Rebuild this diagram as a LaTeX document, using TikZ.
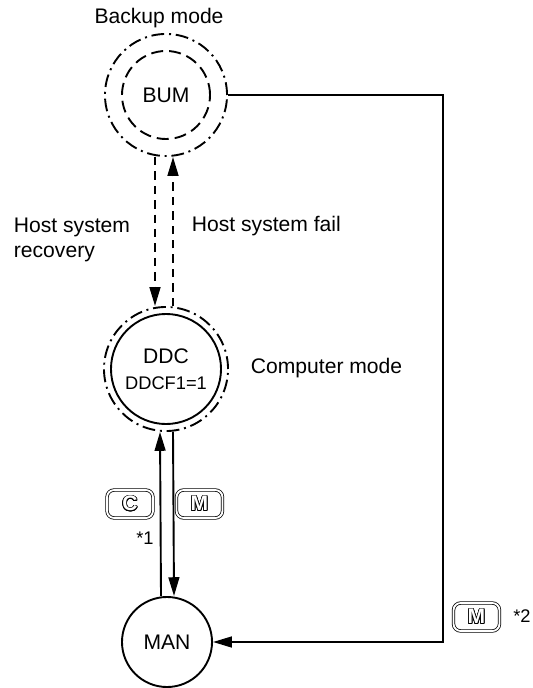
\documentclass[tikz,border=0pt]{standalone}
\usepackage{fontspec}
\setmainfont{Liberation Sans}
\usepackage{contour}
\contourlength{0.5pt}
\usetikzlibrary{arrows.meta}

\begin{document}
\begin{tikzpicture}[x=0.025cm, y=-0.025cm, line width=1.35pt,
		font=\fontsize{15}{17.5}\selectfont,
		arr/.style={-{Triangle[length=0.47cm,width=0.27cm]}},
		dashdot/.style={dash pattern=on 0.32cm off 0.12cm on 0.05cm off 0.12cm},
		dashline/.style={dash pattern=on 0.21cm off 0.15cm},
		mode/.style={circle, draw, inner sep=0pt},
		keycap/.style={draw, rounded corners=0.18cm, double, double distance=1.3pt, line width=0.55pt,
			minimum width=1.15cm, minimum height=0.7cm, inner sep=0pt, font=\fontsize{15}{15}\selectfont\bfseries},
		txt/.style={inner sep=0pt, anchor=base}]
	\useasboundingbox (0,0) rectangle (532,688);
		\node[txt] (backup) at (159,24) {Backup mode};
		\node[mode, dashdot, minimum size=3.05cm] (bum) at (166,95) {};
		\node[mode, dash pattern=on 0.3cm off 0.15cm, minimum size=2.2cm] (bumin) at (166,95) {BUM};
		\node[mode, dashdot, minimum size=3.1cm] (ddc) at (166,369) {};
		\node[mode, minimum size=2.75cm, align=center] (ddcin) at (166,369) {DDC\\[1pt]{\fontsize{13}{15}\selectfont DDCF1=1}};
		\node[mode, minimum size=2.25cm] (man) at (167,642) {MAN};
		\node[inner sep=0pt, anchor=north west, align=left] (recovery) at (13,217) {Host system\\recovery};
		\node[txt, anchor=base west] (fail) at (191,232) {Host system fail};
		\node[txt, anchor=base west] (computer) at (250,373) {Computer mode};
		\node[keycap] (keyc) at (130,504) {{\color{white}\contour{black}{C}}};
		\node[keycap] (keym) at (199.5,504) {{\color{white}\contour{black}{M}}};
		\node[keycap] (keym2) at (476.5,617) {{\color{white}\contour{black}{M}}};
		\node[txt, font=\fontsize{13}{15}\selectfont] (star1) at (145,544) {*1};
		\node[txt, font=\fontsize{13}{15}\selectfont] (star2) at (522,622) {*2};
		\coordinate (corner) at (443,95);
		\path[arr, dashline] ([xshift=-0.275cm]bum.south) edge ([xshift=-0.275cm]ddc.north);
		\path[arr, dashline] ([xshift=0.175cm]ddc.north) edge ([xshift=0.175cm]bum.south);
		\path[arr] ([xshift=-0.15cm]man.north) edge ([xshift=-0.15cm]ddc.south);
		\path[arr] ([xshift=0.175cm]ddc.south) edge ([xshift=0.175cm]man.north);
		\draw[arr] (bum.east) -- (corner) |- (man.east);
\end{tikzpicture}
\end{document}
